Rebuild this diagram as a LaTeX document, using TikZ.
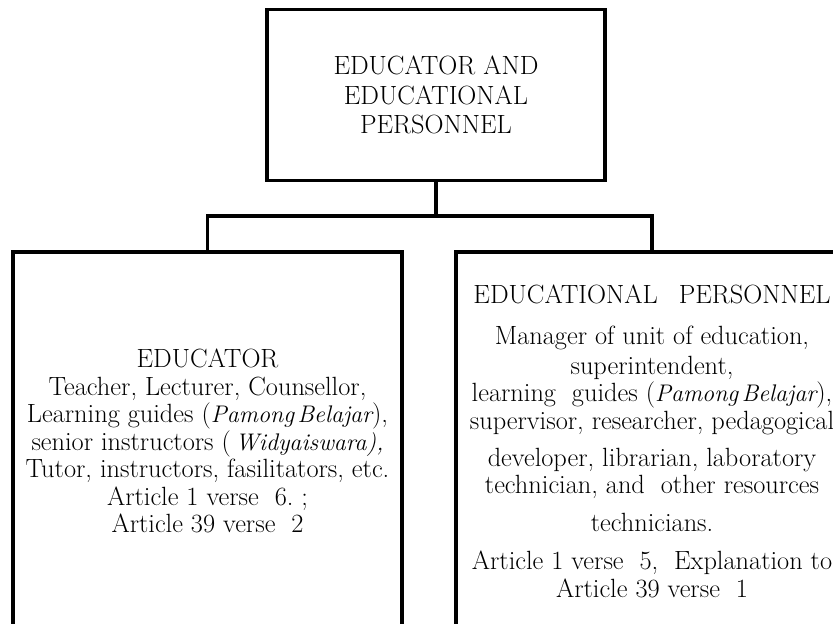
\documentclass[tikz,border=0pt]{standalone}

\newcommand{\itword}[1]{{\fontsize{20.5}{23.5}\selectfont\itshape #1}}

\begin{document}
\begin{tikzpicture}[x=0.03cm,y=-0.03cm,line width=3.2pt,
        box/.style={draw,rectangle,align=center,inner sep=0pt,
          font=\fontsize{22.5}{23.5}\selectfont}]

  \useasboundingbox (0,0) rectangle (833,624);
  \clip (0,0) rectangle (833,624);

  \node[box,minimum width=10.14cm,minimum height=5.13cm,
        font=\fontsize{22.5}{25.5}\selectfont] (box_0) at (436,95)
    {EDUCATOR AND\\ EDUCATIONAL\\ PERSONNEL};

  \node[box,minimum width=11.67cm,minimum height=11.34cm] (box_1) at (207.5,441)
    {EDUCATOR\\
     Teacher, Lecturer, Counsellor,\\
     Learning guides (\itword{Pamong\hspace{0.15em}Belajar}),\\
     senior instructors (\,\itword{Widyaiswara),}\\
     Tutor, instructors, fasilitators, etc.\\
     Article 1 verse\ \ 6.\ ;\\
     Article 39 verse\ \ 2};

  \node[box,minimum width=11.76cm,minimum height=11.34cm] (box_2) at (652,441)
    {EDUCATIONAL\hspace{0.8em}PERSONNEL\\[0.42cm]
     Manager of unit of education,\\[0.06cm]
     superintendent,\\
     learning\ \ guides (\itword{Pamong\hspace{0.15em}Belajar}),\\
     supervisor, researcher, pedagogical\\[0.28cm]
     developer, librarian, laboratory\\
     technician, and\ \ other resources\\[0.3cm]
     technicians.\\[0.33cm]
     Article 1 verse\ \ 5,\ \ Explanation to\\
     Article 39 verse\ \ 1};

  \coordinate (split) at (436,216);
  \draw (box_0.south) -- (split);
  \draw (split) -| (box_1.north);
  \draw (split) -| (box_2.north);

\end{tikzpicture}
\end{document}
